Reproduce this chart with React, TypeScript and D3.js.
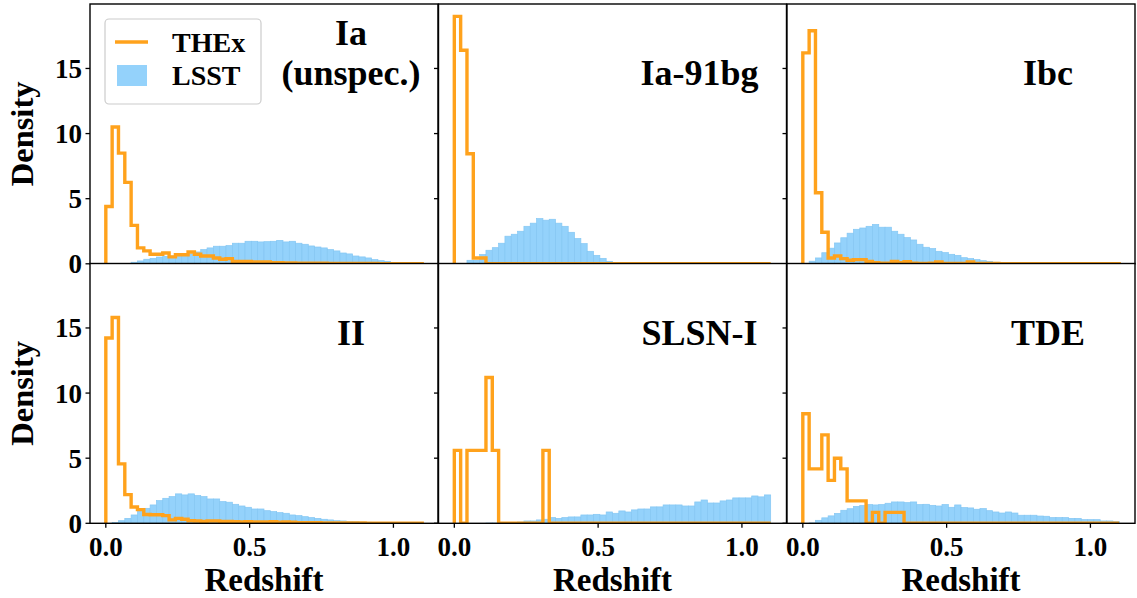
import React from 'react';
import * as d3 from 'd3';

// redshift bins: 50 equal bins between 0 and 1.1
const zMin = 0;
const zMax = 1.1;
const nBins = 50;

const titles = [['Ia', '(unspec.)'], ['Ia-91bg'], ['Ibc'], ['II'], ['SLSN-I'], ['TDE']];
const yTicks = [0, 5, 10, 15];
const xTicks = [0, 0.5, 1.0];

// density per bin
const iaThex = [4.4, 10.5, 8.5, 6.25, 2.95, 1.22, 0.99, 0.73, 0.73, 0.83,
  0.53, 0.7, 0.7, 0.91, 0.73, 0.6, 0.6, 0.45, 0.35, 0.4,
  0.19, 0.19, 0.19, 0.14, 0.14, 0.14, 0.09, 0.09, 0.07, 0.07,
  0.05, 0.05, 0.05, 0.04, 0.04, 0.03, 0.03, 0.03, 0.02, 0.02,
  0.02, 0.02, 0.02, 0.01, 0.01, 0.01, 0.01, 0.01, 0.01, 0.01];
const iaLsst = [0, 0, 0.01, 0.03, 0.12, 0.22, 0.35, 0.42, 0.52, 0.58,
  0.6, 0.65, 0.65, 0.76, 0.91, 1.09, 1.22, 1.35, 1.35, 1.4,
  1.58, 1.58, 1.73, 1.73, 1.68, 1.7, 1.73, 1.8, 1.68, 1.73,
  1.58, 1.5, 1.37, 1.29, 1.22, 1.09, 0.99, 0.83, 0.76, 0.6,
  0.53, 0.45, 0.32, 0.24, 0.19, 0.09, 0.06, 0.04, 0.03, 0.02];

const bgThex = [19.0, 16.4, 8.45, 0.44, 0.44, 0, 0, 0, 0, 0,
  0, 0, 0, 0, 0, 0, 0, 0, 0, 0,
  0, 0, 0, 0, 0, 0, 0, 0, 0, 0,
  0, 0, 0, 0, 0, 0, 0, 0, 0, 0,
  0, 0, 0, 0, 0, 0, 0, 0, 0, 0];
const bgLsst = [0, 0.03, 0.27, 0.27, 0.71, 1.04, 1.24, 1.58, 2.12, 2.27,
  2.5, 2.88, 3.12, 3.47, 3.35, 3.42, 3.12, 2.88, 2.42, 1.94,
  1.55, 0.96, 0.65, 0.42, 0.19, 0.09, 0.04, 0.02, 0.01, 0.01,
  0, 0, 0, 0, 0, 0, 0, 0, 0, 0,
  0, 0, 0, 0, 0, 0, 0, 0, 0, 0];

const ibcThex = [16.2, 17.9, 5.46, 2.42, 0.45, 0.6, 0.4, 0.27, 0.32, 0.32,
  0.19, 0.09, 0.05, 0.05, 0.19, 0.09, 0.17, 0.05, 0.03, 0.03,
  0.05, 0.14, 0.03, 0.03, 0.03, 0.03, 0.14, 0.03, 0.02, 0.02,
  0.02, 0.01, 0.01, 0.01, 0.01, 0.01, 0.01, 0.01, 0.01, 0.01,
  0.01, 0.01, 0.01, 0.01, 0.01, 0.01, 0.01, 0.01, 0.01, 0.01];
const ibcLsst = [0.03, 0.2, 0.45, 0.85, 1.2, 1.6, 2.0, 2.35, 2.65, 2.75,
  2.88, 3.02, 2.81, 2.81, 2.5, 2.27, 2.01, 1.83, 1.5, 1.27,
  1.17, 0.96, 0.86, 0.73, 0.65, 0.47, 0.4, 0.32, 0.24, 0.19,
  0.12, 0.06, 0.04, 0.03, 0.02, 0.02, 0.01, 0.01, 0.01, 0.01,
  0, 0, 0, 0, 0, 0, 0, 0, 0, 0];

const iiThex = [14.23, 15.8, 4.56, 2.2, 1.25, 1.05, 0.68, 0.66, 0.66, 0.59,
  0.26, 0.38, 0.31, 0.2, 0.18, 0.15, 0.18, 0.18, 0.15, 0.15,
  0.13, 0.1, 0.13, 0.1, 0.1, 0.1, 0.12, 0.08, 0.1, 0.08,
  0.05, 0.05, 0.04, 0.04, 0.03, 0.03, 0.03, 0.02, 0.02, 0.02,
  0.02, 0.01, 0.01, 0.01, 0.01, 0.01, 0.01, 0.01, 0.01, 0.01];
const iiLsst = [0, 0.05, 0.2, 0.38, 0.64, 0.97, 1.15, 1.41, 1.74, 1.92,
  2.05, 2.26, 2.18, 2.26, 2.13, 2.05, 1.87, 1.87, 1.67, 1.62,
  1.46, 1.33, 1.23, 1.1, 1.1, 0.97, 0.9, 0.82, 0.77, 0.64,
  0.59, 0.51, 0.44, 0.38, 0.31, 0.26, 0.2, 0.18, 0.15, 0.13,
  0.1, 0.08, 0.06, 0.05, 0.04, 0.03, 0.02, 0.02, 0.01, 0.01];

const slsnThex = [5.6, 0, 5.6, 5.6, 5.6, 11.2, 5.6, 0, 0, 0,
  0, 0, 0, 0, 5.6, 0, 0, 0, 0, 0,
  0, 0, 0, 0, 0, 0, 0, 0, 0, 0,
  0, 0, 0, 0, 0, 0, 0, 0, 0, 0,
  0, 0, 0, 0, 0, 0, 0, 0, 0, 0];
const slsnLsst = [0, 0, 0, 0, 0, 0.02, 0.02, 0.02, 0.02, 0.04,
  0.1, 0.18, 0.18, 0.26, 0.31, 0.44, 0.38, 0.44, 0.49, 0.49,
  0.64, 0.64, 0.69, 0.64, 0.87, 0.77, 0.95, 0.87, 1.03, 1.1,
  1.1, 1.26, 1.26, 1.41, 1.41, 1.41, 1.33, 1.33, 1.64, 1.79,
  1.56, 1.56, 1.72, 1.79, 1.95, 1.95, 1.95, 2.1, 2.03, 2.18];

const tdeThex = [8.41, 4.18, 4.18, 6.79, 3.3, 5.0, 4.18, 1.72, 1.72, 1.72,
  0, 0.84, 0, 0.84, 0.84, 0.84, 0, 0, 0, 0,
  0, 0, 0, 0, 0, 0, 0, 0, 0, 0,
  0, 0, 0, 0, 0, 0, 0, 0, 0, 0,
  0, 0, 0, 0, 0, 0, 0, 0, 0, 0];
const tdeLsst = [0, 0.03, 0.23, 0.42, 0.57, 0.76, 1.0, 1.12, 1.3, 1.36,
  1.44, 1.41, 1.44, 1.54, 1.64, 1.64, 1.59, 1.64, 1.44, 1.46,
  1.38, 1.33, 1.44, 1.23, 1.41, 1.21, 1.18, 1.08, 1.13, 0.97,
  0.87, 0.79, 0.87, 0.79, 0.62, 0.62, 0.62, 0.56, 0.54, 0.44,
  0.44, 0.44, 0.38, 0.38, 0.28, 0.28, 0.28, 0.18, 0.18, 0.13];

const thexSeries = [iaThex, bgThex, ibcThex, iiThex, slsnThex, tdeThex];
const lsstSeries = [iaLsst, bgLsst, ibcLsst, iiLsst, slsnLsst, tdeLsst];

const W = 1137;
const H = 598;
const colLeft = [90, 438.5, 787];
const rowTop = [4, 263.5];
const panelW = 348;
const panelH = 259.8;

const ORANGE = '#ffa21c';
const BLUE = '#94d2fb';
const FONT = '"Liberation Serif", "Times New Roman", Times, serif';

const edges = d3.range(nBins + 1).map((i) => zMin + (i * (zMax - zMin)) / nBins);

const Panel = ({ idx }: { idx: number }) => {
  const row = Math.floor(idx / 3);
  const col = idx % 3;
  const left = colLeft[col];
  const top = rowTop[row];
  const bottom = top + panelH;

  const x = d3.scaleLinear().domain([-0.055, 1.155]).range([left, left + panelW]);
  const y = d3.scaleLinear().domain([0, 19.95]).range([bottom, top]);

  const thex = thexSeries[idx];
  const lsst = lsstSeries[idx];

  const pts: [number, number][] = [[edges[0], 0]];
  thex.forEach((v, i) => {
    pts.push([edges[i], v]);
    pts.push([edges[i + 1], v]);
  });
  pts.push([edges[nBins], 0]);
  const step = d3.line<[number, number]>().x((d) => x(d[0])).y((d) => y(d[1]));

  const clipId = `clip${idx}`;

  return (
    <g>
      <defs>
        <clipPath id={clipId}>
          <rect x={left} y={top} width={panelW} height={panelH} />
        </clipPath>
      </defs>
      <rect x={left} y={top} width={panelW} height={panelH} fill="white" />
      <g clipPath={`url(#${clipId})`}>
        {lsst.map((v, i) =>
          v > 0 ? (
            <rect
              key={i}
              x={x(edges[i])}
              y={y(v)}
              width={x(edges[i + 1]) - x(edges[i])}
              height={bottom - y(v)}
              fill={BLUE}
              stroke="#85c7f3"
              strokeWidth={0.7}
            />
          ) : null
        )}
        <path d={step(pts) || ''} fill="none" stroke={ORANGE} strokeWidth={3.4} strokeLinejoin="miter" />
      </g>
      {/* ticks */}
      {yTicks.map((t) => (
        <line key={'y' + t} x1={left - 4.5} x2={left} y1={y(t)} y2={y(t)} stroke="black" strokeWidth={1.3} />
      ))}
      {row === 1 &&
        xTicks.map((t) => (
          <line key={'x' + t} x1={x(t)} x2={x(t)} y1={bottom} y2={bottom + 4.5} stroke="black" strokeWidth={1.3} />
        ))}
      {col === 0 &&
        yTicks.map((t) => (
          <text key={'yl' + t} x={left - 8} y={y(t)} dy="0.35em" textAnchor="end" fontSize={27} fontWeight="bold" fontFamily={FONT}>
            {t}
          </text>
        ))}
      {row === 1 &&
        xTicks.map((t) => (
          <text key={'xl' + t} x={x(t)} y={bottom + 33} textAnchor="middle" fontSize={27} fontWeight="bold" fontFamily={FONT}>
            {d3.format('.1f')(t)}
          </text>
        ))}
      {row === 1 && (
        <text x={left + panelW / 2} y={591} textAnchor="middle" fontSize={33} fontWeight="bold" fontFamily={FONT}>
          Redshift
        </text>
      )}
      {col === 0 && (
        <text
          transform={`translate(33, ${top + panelH / 2}) rotate(-90)`}
          textAnchor="middle"
          fontSize={32.5}
          fontWeight="bold"
          fontFamily={FONT}
        >
          Density
        </text>
      )}
      {titles[idx].map((s, k, arr) => (
        <text
          key={s}
          x={left + panelW * 0.75}
          y={top + 81 - (arr.length - 1 - k) * 40}
          textAnchor="middle"
          fontSize={36}
          fontWeight="bold"
          fontFamily={FONT}
        >
          {s}
        </text>
      ))}
      <rect x={left} y={top} width={panelW} height={panelH} fill="none" stroke="black" strokeWidth={1.4} />
    </g>
  );
};

const Legend = () => {
  const lx = colLeft[0] + 15;
  const ly = rowTop[0] + 15;
  return (
    <g>
      <rect x={lx} y={ly} width={156} height={85} rx={4} fill="white" fillOpacity={0.8} stroke="#cccccc" strokeWidth={1.2} />
      <line x1={lx + 10} x2={lx + 43} y1={ly + 23} y2={ly + 23} stroke={ORANGE} strokeWidth={3.4} />
      <rect x={lx + 12} y={ly + 46} width={30} height={21} fill={BLUE} />
      <text x={lx + 67} y={ly + 33} fontSize={28} fontWeight="bold" fontFamily={FONT}>THEx</text>
      <text x={lx + 67} y={ly + 66} fontSize={28} fontWeight="bold" fontFamily={FONT}>LSST</text>
    </g>
  );
};

export default function App() {
  return (
    <div style={{ position: 'absolute', left: 0, top: 0 }}>
      <svg width={W} height={H} style={{ display: 'block', background: 'white' }}>
        {[0, 1, 2, 3, 4, 5].map((i) => (
          <Panel key={i} idx={i} />
        ))}
        <Legend />
      </svg>
    </div>
  );
}
